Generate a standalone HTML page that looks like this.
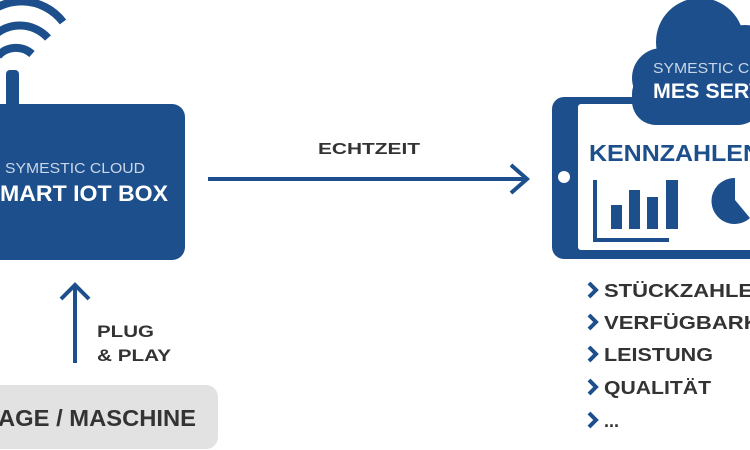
<!DOCTYPE html>
<html><head><style>
body{margin:0;background:#fff;}
svg{display:block}
</style></head><body>
<svg width="750" height="450" viewBox="0 0 750 450" xmlns="http://www.w3.org/2000/svg" font-family="Liberation Sans, sans-serif">
<!-- wifi -->
<g fill="none" stroke="#1d4f8c" stroke-width="8" stroke-linecap="butt">
<path d="M-20 22 A52 52 0 0 1 63 22"/>
<path d="M-10 40 A38 38 0 0 1 48 38"/>
<path d="M-2 56 A24 24 0 0 1 32 54"/>
</g>
<rect x="6" y="70" width="13" height="40" rx="4" fill="#1d4f8c"/>
<rect x="-20" y="104" width="205" height="156" rx="13" fill="#1d4f8c"/>
<text x="5" y="173" fill="#c9d6e8" font-size="15" textLength="140" lengthAdjust="spacingAndGlyphs">SYMESTIC CLOUD</text>
<text x="0" y="201" fill="#fff" font-size="22" font-weight="bold" textLength="168" lengthAdjust="spacingAndGlyphs">MART IOT BOX</text>
<!-- horizontal arrow -->
<line x1="208" y1="179" x2="527" y2="179" stroke="#1d4f8c" stroke-width="4"/>
<polyline points="511,165 527,179 511,193" fill="none" stroke="#1d4f8c" stroke-width="4"/>
<text x="318" y="154" fill="#333" font-size="16" font-weight="bold" textLength="102" lengthAdjust="spacingAndGlyphs">ECHTZEIT</text>
<!-- up arrow -->
<line x1="75" y1="363" x2="75" y2="286" stroke="#1d4f8c" stroke-width="4"/>
<polyline points="61,299 75,285 89,299" fill="none" stroke="#1d4f8c" stroke-width="4"/>
<text x="97" y="337" fill="#333" font-size="17" font-weight="bold" textLength="57" lengthAdjust="spacingAndGlyphs">PLUG</text>
<text x="97" y="361" fill="#333" font-size="17" font-weight="bold" textLength="74" lengthAdjust="spacingAndGlyphs">&amp; PLAY</text>
<!-- gray box -->
<rect x="-20" y="385" width="238" height="64" rx="12" fill="#e2e2e2"/>
<text x="-2" y="426" fill="#333" font-size="23" font-weight="bold" textLength="198" lengthAdjust="spacingAndGlyphs">AGE / MASCHINE</text>
<!-- tablet -->
<rect x="552" y="97" width="220" height="162" rx="12" fill="#1d4f8c"/>
<rect x="578" y="104" width="190" height="146" rx="3" fill="#fff"/>
<circle cx="564" cy="177" r="6" fill="#fff"/>
<!-- cloud -->
<g fill="#1d4f8c">
<circle cx="700" cy="42" r="44"/>
<circle cx="662" cy="78" r="30"/>
<circle cx="745" cy="55" r="30"/>
<rect x="632" y="70" width="130" height="55" rx="24"/>
</g>
<text x="653" y="73" fill="#c9d6e8" font-size="15" textLength="140" lengthAdjust="spacingAndGlyphs">SYMESTIC CLOUD</text>
<text x="653" y="98" fill="#fff" font-size="21" font-weight="bold" textLength="140" lengthAdjust="spacingAndGlyphs">MES SERVER</text>
<text x="589" y="161" fill="#1d4f8c" font-size="23" font-weight="bold" textLength="172" lengthAdjust="spacingAndGlyphs">KENNZAHLEN</text>
<polyline points="595,180 595,240 669,240" fill="none" stroke="#1d4f8c" stroke-width="4"/>
<g fill="#1d4f8c">
<rect x="611" y="205" width="11" height="24"/>
<rect x="629" y="190" width="11" height="39"/>
<rect x="647" y="197" width="11" height="32"/>
<rect x="666" y="180" width="12" height="49"/>
<path d="M735 178 A23 23 0 1 0 750 218 L735 200 Z"/>
</g>
<!-- list -->
<g fill="#333" font-size="18" font-weight="bold">
<text x="604" y="297" textLength="165" lengthAdjust="spacingAndGlyphs">STÜCKZAHLEN</text>
<text x="604" y="329" textLength="190" lengthAdjust="spacingAndGlyphs">VERFÜGBARKEIT</text>
<text x="604" y="361" textLength="109" lengthAdjust="spacingAndGlyphs">LEISTUNG</text>
<text x="604" y="394" textLength="107" lengthAdjust="spacingAndGlyphs">QUALITÄT</text>
<text x="604" y="427">...</text>
</g>
<g fill="none" stroke="#1d4f8c" stroke-width="4">
<polyline points="589,283 596,290 589,297"/>
<polyline points="589,315 596,322 589,329"/>
<polyline points="589,347 596,354 589,361"/>
<polyline points="589,380 596,387 589,394"/>
<polyline points="589,413 596,420 589,427"/>
</g>
</svg>
</body></html>
